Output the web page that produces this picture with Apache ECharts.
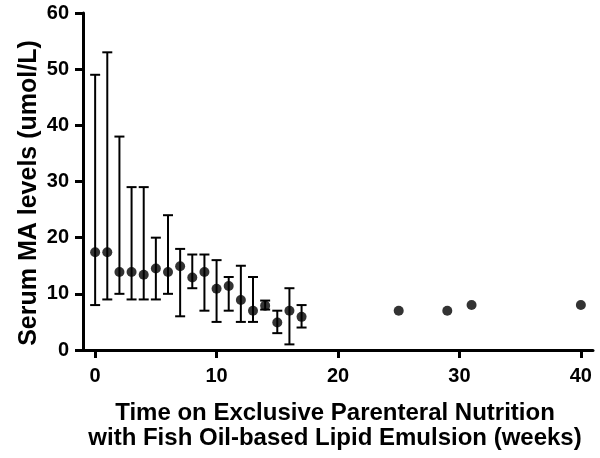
<!DOCTYPE html>
<html>
<head>
<meta charset="utf-8">
<script src="https://cdn.jsdelivr.net/npm/echarts@6/dist/echarts.min.js"></script>
<style>html,body{margin:0;padding:0;background:#fff;}#c{width:600px;height:458px;}</style>
</head>
<body>
<div id="c"></div>
<script>
// Data
var weeks   = [0, 1, 2, 3, 4, 5, 6, 7, 8, 9, 10, 11, 12, 13, 14, 15, 16, 17, 25, 29, 31, 40];
var means   = [17.4, 17.4, 13.9, 13.9, 13.4, 14.5, 13.9, 14.9, 12.9, 13.9, 10.9, 11.4, 8.9, 7.0, 7.9, 4.9, 7.0, 5.9, 7.0, 7.0, 8.0, 8.0];
var lowers  = [8, 9, 10, 9, 9, 9, 10, 6, 11, 7, 5, 7, 5, 5, 7.2, 3, 1, 4, null, null, null, null];
var uppers  = [49, 53, 38, 29, 29, 20, 24, 18, 17, 17, 16, 13, 15, 13, 8.8, 7, 11, 8, null, null, null, null];
var xTicks  = [0, 10, 20, 30, 40];
var yTicks  = [0, 10, 20, 30, 40, 50, 60];

var pts = weeks.map(function (w, i) { return [w, means[i]]; });
var errs = [];
weeks.forEach(function (w, i) {
  if (lowers[i] !== null) errs.push([w, lowers[i], uppers[i]]);
});

var FONT = 'Liberation Sans, Arial, sans-serif';
var chart = echarts.init(document.getElementById('c'));
chart.setOption({
  animation: false,
  backgroundColor: '#fff',
  grid: { left: 83, right: 7, top: 13, bottom: 108, containLabel: false },
  xAxis: {
    type: 'value', min: -1, max: 41,
    splitLine: { show: false },
    axisLine: { onZero: false, lineStyle: { color: '#000', width: 3 } },
    axisTick: { length: 8, lineStyle: { color: '#000', width: 3 }, customValues: xTicks },
    axisLabel: { customValues: xTicks, margin: 16, color: '#000', fontSize: 20, fontWeight: 'bold', fontFamily: FONT }
  },
  yAxis: {
    type: 'value', min: 0, max: 60, interval: 10,
    splitLine: { show: false },
    axisLine: { show: true, onZero: false, lineStyle: { color: '#000', width: 3 } },
    axisTick: { show: true, length: 8, lineStyle: { color: '#000', width: 3 } },
    axisLabel: { margin: 14, color: '#000', fontSize: 20, fontWeight: 'bold', fontFamily: FONT }
  },
  graphic: [
    { type: 'text', x: 29, y: 193, rotation: Math.PI / 2,
      style: { text: 'Serum MA levels (umol/L)', fill: '#000', font: 'bold 25px ' + FONT,
               textAlign: 'center', textVerticalAlign: 'middle' } },
    { type: 'text', x: 335, y: 413,
      style: { text: 'Time on Exclusive Parenteral Nutrition', fill: '#000', font: 'bold 24px ' + FONT,
               textAlign: 'center', textVerticalAlign: 'middle' } },
    { type: 'text', x: 335, y: 438,
      style: { text: 'with Fish Oil-based Lipid Emulsion (weeks)', fill: '#000', font: 'bold 24px ' + FONT,
               textAlign: 'center', textVerticalAlign: 'middle' } }
  ],
  series: [
    {
      type: 'custom',
      data: errs,
      z: 2,
      renderItem: function (params, api) {
        var x = api.value(0);
        var top = api.coord([x, api.value(2)]);
        var bot = api.coord([x, api.value(1)]);
        var hw = 5;
        var st = { stroke: '#000', lineWidth: 2 };
        return {
          type: 'group',
          children: [
            { type: 'line', shape: { x1: top[0], y1: top[1], x2: bot[0], y2: bot[1] }, style: st },
            { type: 'line', shape: { x1: top[0] - hw, y1: top[1], x2: top[0] + hw, y2: top[1] }, style: st },
            { type: 'line', shape: { x1: bot[0] - hw, y1: bot[1], x2: bot[0] + hw, y2: bot[1] }, style: st }
          ]
        };
      }
    },
    {
      type: 'scatter',
      data: pts,
      z: 3,
      symbol: 'circle',
      symbolSize: 10,
      itemStyle: { color: '#000' }
    }
  ]
});
</script>
</body>
</html>
